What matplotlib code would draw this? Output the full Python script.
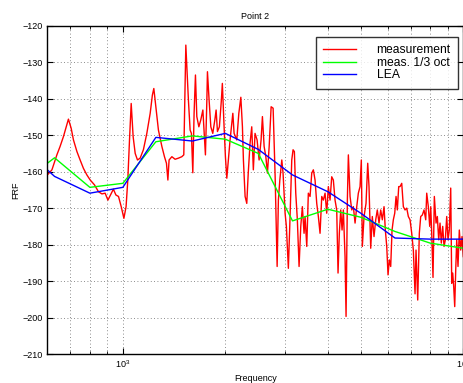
import matplotlib
matplotlib.use("Agg")
import matplotlib.pyplot as plt
from matplotlib.ticker import LogLocator, MultipleLocator, NullFormatter

plt.rcParams["font.family"] = ["Liberation Sans", "DejaVu Sans"]

# measured FRF (Hz, dB)
meas_freq = [
    600, 619, 640, 654, 669, 680, 692, 705, 716, 733, 749, 766, 784, 802, 825,
    848, 868, 887, 904, 920, 938, 954, 971, 989, 1007, 1022, 1034, 1046, 1058,
    1072, 1087, 1104, 1124, 1149, 1176, 1203, 1221, 1233, 1250, 1272, 1302,
    1325, 1343, 1356, 1367, 1393, 1424, 1456, 1490, 1510, 1531, 1558, 1576,
    1590, 1605, 1619, 1634, 1649, 1672, 1694, 1718, 1733, 1748, 1765, 1772,
    1792, 1813, 1837, 1863, 1879, 1896, 1921, 1947, 1960, 1983, 2001, 2020,
    2042, 2065, 2104, 2122, 2161, 2191, 2221, 2245, 2260,
    2286, 2312, 2335, 2364, 2391, 2417, 2445, 2479, 2513, 2547, 2570, 2600,
    2630, 2659, 2690, 2726, 2763, 2801, 2839, 2863, 2891, 2930, 2955, 2996,
    3022, 3063, 3092, 3134, 3162, 3190, 3220, 3255, 3293, 3331, 3367, 3406,
    3429, 3469, 3506, 3547, 3588, 3627, 3669, 3711, 3752, 3795, 3839, 3881,
    3926, 3970, 4014, 4060, 4107, 4152, 4200, 4248, 4286, 4324, 4365, 4404,
    4443, 4494, 4525, 4565, 4596, 4649, 4703, 4754,
    4809, 4864, 4917, 4974, 5017, 5052, 5110, 5179, 5239, 5285, 5346, 5404,
    5467, 5530, 5590, 5655, 5720, 5783, 5850, 5902, 5958, 6010, 6063, 6120,
    6176, 6230, 6289, 6345, 6400, 6461,
    6519, 6594, 6666, 6743, 6821, 6895, 6975, 7055, 7132, 7215, 7263, 7347,
    7427, 7497, 7579, 7667, 7756, 7808, 7893, 7968, 8023, 8077, 8147, 8221,
    8316, 8389, 8468, 8543, 8618, 8700, 8778, 8855, 8939, 9018, 9097, 9184,
    9246, 9308, 9371, 9436, 9500, 9564, 9648, 9734, 9826, 9913, 10000,
]
meas_frf = [
    -160.9, -159.5, -155.4, -153.1, -150.4, -148.1, -145.6, -148.1, -151.3,
    -154.5, -156.8, -159.1, -160.9, -162.3, -163.6, -165.5, -166.1, -165.9,
    -167.8, -166.4, -164.8, -166.4, -166.8, -169.6, -172.8, -169.6, -162.3,
    -151.3, -141.3, -150.4, -155.0, -156.8, -156.3, -154.0, -149.5, -144.0,
    -139.0, -137.2, -142.2, -148.6, -153.1, -155.9, -157.7, -162.3, -156.8,
    -155.9, -156.6, -156.3, -155.9, -155.4, -125.3, -140.4, -148.6, -149.5,
    -160.3, -144.0, -133.5, -144.9, -147.7, -145.8, -143.1, -149.5, -155.4,
    -140.4, -132.6, -140.4, -147.7, -149.5, -145.8, -143.1, -149.0, -147.7,
    -140.4, -135.8, -147.7, -155.9, -161.8, -156.8, -151.3, -144.0, -149.5,
    -151.3, -144.0, -139.6, -147.7, -156.8,
    -166.8, -168.7, -160.4, -152.2, -147.7, -159.5, -149.5, -151.3, -156.8,
    -151.3, -144.9, -153.1, -155.9, -160.4, -153.1, -142.2, -142.6, -161.4,
    -186.0, -167.8, -162.3, -156.8, -160.4, -171.4, -175.0, -186.5, -175.0,
    -156.8, -154.0, -154.5, -165.9, -173.2, -186.0, -175.0, -169.6, -176.9,
    -172.3, -180.5, -165.9, -166.8, -160.4, -159.5, -162.3, -168.7, -172.3,
    -176.9, -166.8, -167.8, -165.9, -171.4, -164.1, -167.8, -161.4, -162.3,
    -167.8, -170.5, -187.8, -176.9, -170.5, -176.0, -170.5, -183.3, -199.7,
    -167.8, -155.4, -166.8, -170.5, -169.6,
    -174.1, -169.6, -165.9, -164.1, -156.8, -180.5, -172.3, -168.7, -157.7,
    -164.1, -181.0, -172.3, -177.8, -173.2, -170.5, -174.1, -170.5, -173.2,
    -169.6, -176.0, -180.5, -188.3, -184.2, -186.0, -176.0, -173.2, -171.4,
    -166.8, -170.5, -164.1,
    -164.1, -163.2, -169.6, -170.5, -170.0, -172.3, -173.2, -176.9, -181.5,
    -193.5, -181.5, -195.2, -176.9, -172.3, -171.9, -170.5, -173.2, -165.9,
    -169.6, -175.0, -169.6, -176.9, -189.0, -166.8, -174.1, -172.3, -178.7,
    -174.1, -179.6, -175.0, -180.5, -178.7, -172.3, -178.7, -176.0, -164.5,
    -190.6, -187.8, -191.5, -197.0, -187.0, -178.7, -186.0, -176.0, -181.5,
    -177.8, -183.3,
]

# 1/3 octave bands
band_freq = [600, 630, 800, 1000, 1250, 1600, 2000, 2500, 3150, 4000, 5000,
             6300, 8000, 10000]
oct_frf = [-157.7, -156.2, -164.3, -163.2, -151.8, -150.2, -151.1, -155.0,
           -173.5, -170.3, -172.5, -176.4, -179.6, -181.0]
lea_frf = [-159.5, -161.3, -165.9, -164.3, -150.6, -151.6, -149.5, -153.9,
           -160.9, -165.5, -171.4, -178.2, -178.5, -178.5]

fig = plt.figure(figsize=(4.64, 3.83), dpi=100)
ax = fig.add_axes([0.102, 0.0757, 0.8965, 0.857])

ax.plot(meas_freq, meas_frf, color=(1, 0, 0), lw=1.0, label="measurement")
ax.plot(band_freq, oct_frf, color=(0, 1, 0), lw=1.0, label="meas. 1/3 oct")
ax.plot(band_freq, lea_frf, color=(0, 0, 1), lw=1.0, label="LEA")

ax.set_xscale("log")
ax.set_xlim(600, 10000)
ax.set_ylim(-210, -120)
ax.yaxis.set_major_locator(MultipleLocator(10))
ax.xaxis.set_major_locator(LogLocator(base=10))
ax.xaxis.set_minor_locator(LogLocator(base=10, subs=range(2, 10)))
ax.xaxis.set_minor_formatter(NullFormatter())

ax.grid(True, which="major", linestyle=(0, (1, 3)), color="0.4", lw=0.6)
ax.grid(True, which="minor", axis="x", linestyle=(0, (1, 3)), color="0.4",
        lw=0.6)

ax.tick_params(which="both", direction="in", top=True, right=True,
               labelsize=6.5, pad=3)
ax.tick_params(which="major", length=4, width=0.8)
ax.tick_params(which="minor", length=2, width=0.6)
for spine in ax.spines.values():
    spine.set_linewidth(1.0)

ax.set_title("Point 2", fontsize=6.5, pad=5)
ax.set_xlabel("Frequency", fontsize=6.5, labelpad=3)
ax.set_ylabel("FRF", fontsize=6.5, labelpad=2)

leg = ax.legend(loc="upper right", bbox_to_anchor=(0.987, 0.966),
                borderaxespad=0, fontsize=8.7, frameon=True, fancybox=False,
                edgecolor="black", handlelength=2.7, handletextpad=1.7,
                labelspacing=0.05, borderpad=0.6)
leg.get_frame().set_linewidth(1.0)

fig.savefig("out.png", dpi=100)
